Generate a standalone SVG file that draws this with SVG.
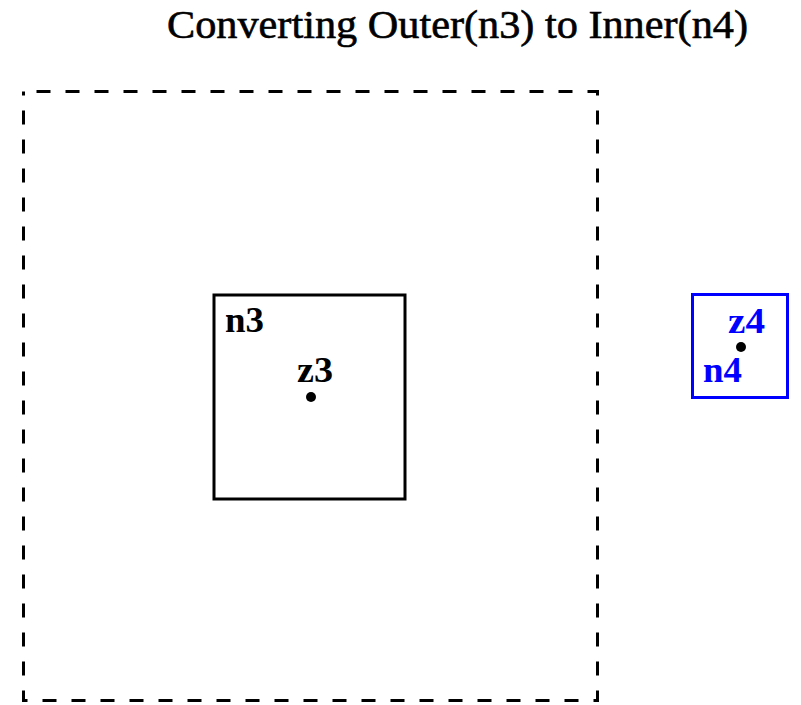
<svg xmlns="http://www.w3.org/2000/svg" width="801" height="705" viewBox="0 0 801 705">
<style>
.title{font-family:"Liberation Serif",serif;font-size:40px;fill:#000;stroke:#000;stroke-width:0.6}
.lbl{font-family:"Liberation Serif",serif;font-size:36px;font-weight:bold}
.blk{fill:#000}
.blu{fill:#0000ff}
.dot{fill:#000}
</style>
<rect width="801" height="705" fill="#fff"/>
<text class="title" x="167" y="38" textLength="581" lengthAdjust="spacingAndGlyphs">Converting Outer(n3) to Inner(n4)</text>
<g id="outer">
<rect x="23.5" y="91.5" width="574" height="609" fill="none" stroke="#000" stroke-width="3" stroke-dasharray="14 15" stroke-dashoffset="-13"/>
</g>
<g id="n3">
<rect x="214" y="295" width="191" height="204" fill="none" stroke="#000" stroke-width="3"/>
<text class="lbl blk" x="225" y="332" textLength="39" lengthAdjust="spacingAndGlyphs">n3</text>
<text class="lbl blk" x="297" y="382" textLength="36" lengthAdjust="spacingAndGlyphs">z3</text>
<circle class="dot" cx="311" cy="397" r="5"/>
</g>
<g id="n4">
<rect x="692.5" y="294.5" width="95" height="103" fill="none" stroke="#0000ff" stroke-width="3"/>
<text class="lbl blu" x="728" y="333" textLength="37" lengthAdjust="spacingAndGlyphs">z4</text>
<text class="lbl blu" x="703" y="382" textLength="39" lengthAdjust="spacingAndGlyphs">n4</text>
<circle class="dot" cx="741" cy="347" r="5"/>
</g>
<g id="connectors"/>
</svg>
